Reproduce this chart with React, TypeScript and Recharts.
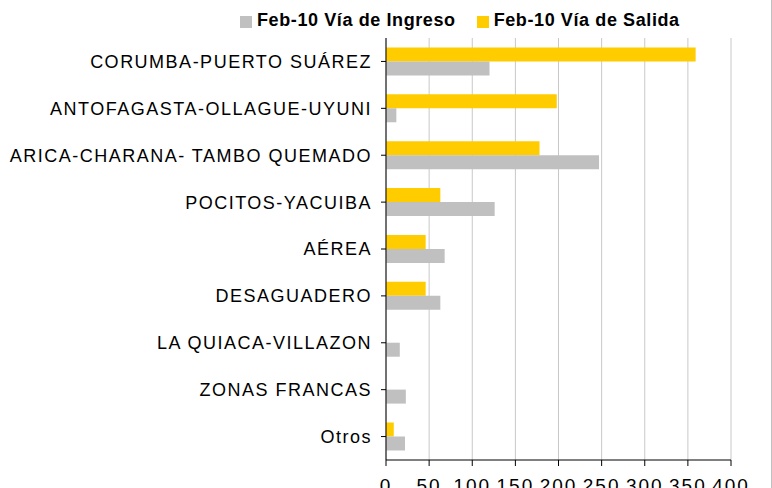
import React from 'react';
import {
  BarChart,
  Bar,
  XAxis,
  YAxis,
  CartesianGrid,
  Legend
} from 'recharts';

const categories = [
  'CORUMBA-PUERTO SUÁREZ',
  'ANTOFAGASTA-OLLAGUE-UYUNI',
  'ARICA-CHARANA- TAMBO QUEMADO',
  'POCITOS-YACUIBA',
  'AÉREA',
  'DESAGUADERO',
  'LA QUIACA-VILLAZON',
  'ZONAS FRANCAS',
  'Otros'
];
const salida = [359, 198, 178, 63, 46, 46, 0, 0, 9];
const ingreso = [120, 12, 247, 126, 68, 63, 16, 23, 22];
const xTicks = [0, 50, 100, 150, 200, 250, 300, 350, 400];

const data = categories.map((name, i) => ({ name, salida: salida[i], ingreso: ingreso[i] }));

const font = '"Liberation Sans", Arial, sans-serif';

const LegendContent = () => (
  <div style={{ display: 'flex', alignItems: 'center', height: 20, fontFamily: font, fontWeight: 'bold', fontSize: 18, letterSpacing: 0.6, color: '#000', whiteSpace: 'nowrap' }}>
    <span style={{ width: 12, height: 12, background: '#c0c0c0', display: 'inline-block', marginRight: 5, marginTop: 3 }} />
    <span style={{ marginRight: 21 }}>Feb-10 Vía de Ingreso</span>
    <span style={{ width: 12, height: 12, background: '#ffcc00', display: 'inline-block', marginRight: 5, marginTop: 3 }} />
    <span>Feb-10 Vía de Salida</span>
  </div>
);

const App: React.FC = () => {
  return (
    <div style={{ position: 'absolute', left: 0, top: 0, width: 771, height: 488, borderRight: '1px solid #c0c0c0', background: '#fff' }}>
      <BarChart
        width={771}
        height={488}
        data={data}
        layout="vertical"
        margin={{ top: 18, right: 40, left: 0, bottom: 0 }}
        barCategoryGap="20%"
        barGap={0}
      >
        <CartesianGrid horizontal={false} stroke="#c8c8c8" />
        <XAxis
          type="number"
          domain={[0, 400]}
          ticks={xTicks}
          height={28}
          tickSize={6}
          tickMargin={13}
          stroke="#000"
          tick={{ fill: '#000', fontSize: 19, letterSpacing: 2, fontFamily: font }}
          interval={0}
        />
        <YAxis
          type="category"
          dataKey="name"
          width={386}
          tickSize={5}
          tickMargin={9}
          stroke="#000"
          tick={{ fill: '#000', fontSize: 18, letterSpacing: 1.5, fontFamily: font }}
          interval={0}
        />
        <Legend
          verticalAlign="top"
          height={20}
          content={<LegendContent />}
          wrapperStyle={{ position: 'absolute', top: 10, left: 240, width: 'auto' }}
        />
        <Bar dataKey="salida" name="Feb-10 Vía de Salida" fill="#ffcc00" isAnimationActive={false} />
        <Bar dataKey="ingreso" name="Feb-10 Vía de Ingreso" fill="#c0c0c0" isAnimationActive={false} />
      </BarChart>
    </div>
  );
};

export default App;
